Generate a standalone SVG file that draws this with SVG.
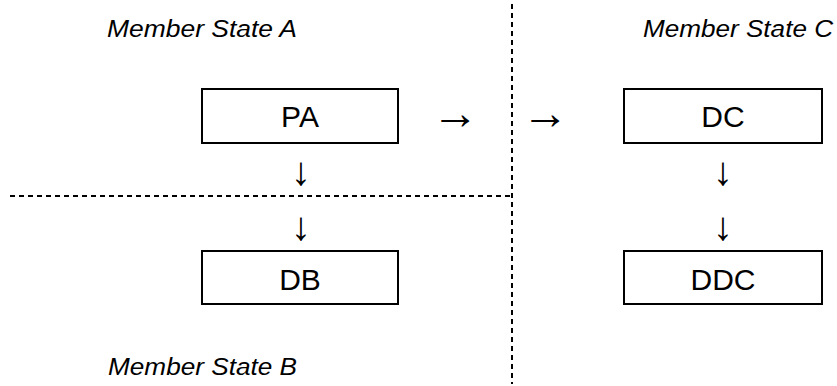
<svg xmlns="http://www.w3.org/2000/svg" width="837" height="386" viewBox="0 0 837 386">
  <style>
    .box { fill: #ffffff; stroke: #000000; stroke-width: 2; }
    .lbl { font-family: "Liberation Sans", Arial, sans-serif; font-size: 30px; fill: #000000; text-anchor: middle; }
    .state { font-family: "Liberation Sans", Arial, sans-serif; font-size: 24.5px; font-style: italic; fill: #000000; }
    .arr { font-family: "Liberation Sans", Arial, sans-serif; font-size: 40px; fill: #000000; text-anchor: middle; }
    .arr-h { font-size: 47px; }
    .border { stroke: #000000; stroke-width: 2; stroke-dasharray: 5 4; fill: none; }
  </style>
  <rect width="837" height="386" fill="#ffffff"/>

  <!-- state borders -->
  <g id="borders">
    <line class="border" x1="512" y1="4" x2="512" y2="384"/>
    <line class="border" x1="10" y1="196" x2="512" y2="196"/>
  </g>

  <!-- state labels -->
  <text class="state" x="107" y="37" textLength="190" lengthAdjust="spacingAndGlyphs">Member State A</text>
  <text class="state" x="643" y="37" textLength="190" lengthAdjust="spacingAndGlyphs">Member State C</text>
  <text class="state" x="108" y="375" textLength="189" lengthAdjust="spacingAndGlyphs">Member State B</text>

  <g id="PA">
    <rect class="box" x="202" y="89" width="196" height="54"/>
    <text class="lbl" x="300" y="127">PA</text>
  </g>
  <g id="DB">
    <rect class="box" x="202" y="251" width="196" height="53"/>
    <text class="lbl" x="300" y="290">DB</text>
  </g>
  <g id="DC">
    <rect class="box" x="624" y="89" width="198" height="54"/>
    <text class="lbl" x="723" y="127">DC</text>
  </g>
  <g id="DDC">
    <rect class="box" x="624" y="251" width="198" height="53"/>
    <text class="lbl" x="723" y="290">DDC</text>
  </g>

  <!-- flow arrows -->
  <g id="connectors">
    <text class="arr arr-h" x="455" y="129">→</text>
    <text class="arr arr-h" x="545" y="129">→</text>
    <text class="arr" x="301" y="185">↓</text>
    <text class="arr" x="301" y="240">↓</text>
    <text class="arr" x="723" y="185">↓</text>
    <text class="arr" x="723" y="240">↓</text>
  </g>
</svg>
